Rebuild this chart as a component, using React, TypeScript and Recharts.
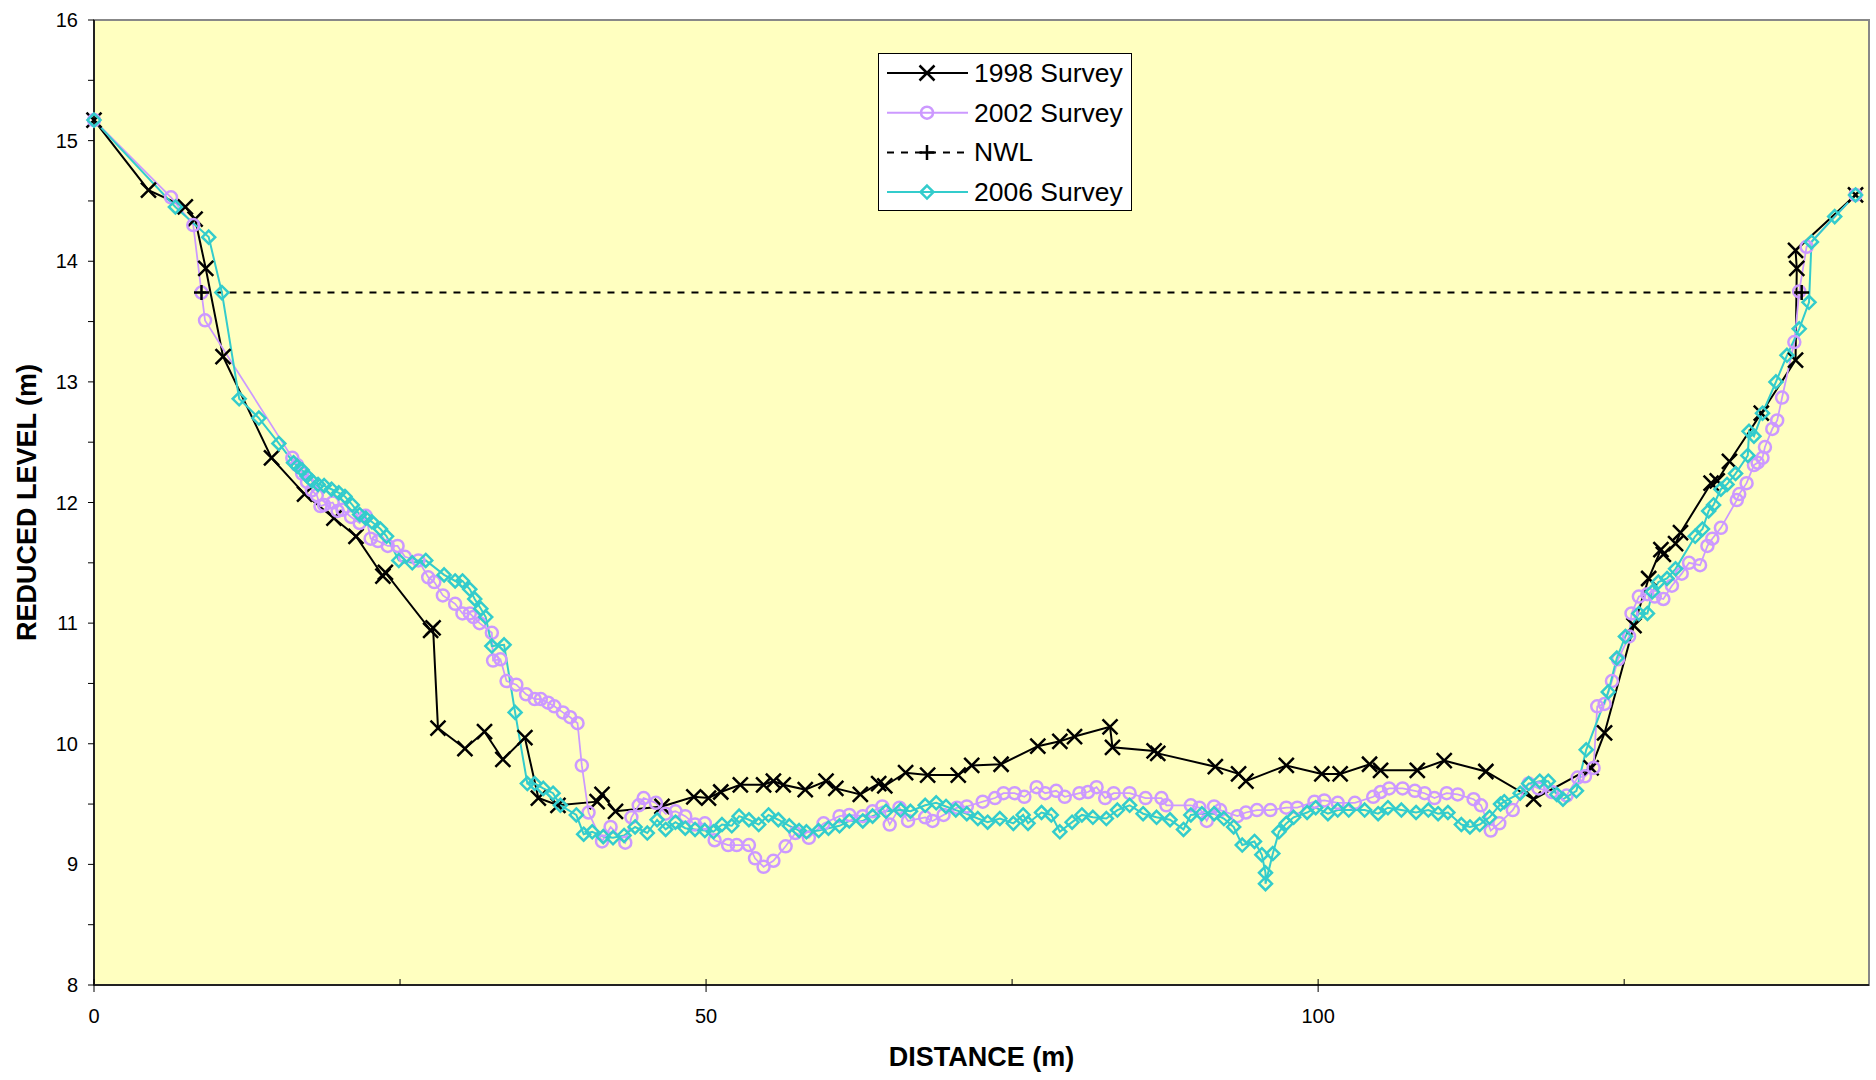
import React from "react";
import { LineChart, Line, XAxis, YAxis, ReferenceArea } from "recharts";

const FONT = '"Liberation Sans", Arial, sans-serif';
const PLOT_BG = "#FFFFC0";
const LILAC = "#CC99FF";
const TEAL = "#33CCCC";

const seriesNames = ["1998 Survey", "2002 Survey", "NWL", "2006 Survey"];

const xTicks = [0, 25, 50, 75, 100, 125];
const xLabels = [0, 50, 100];
const yTicks = [8, 8.5, 9, 9.5, 10, 10.5, 11, 11.5, 12, 12.5, 13, 13.5, 14, 14.5, 15, 15.5, 16];
const yLabels = [8, 9, 10, 11, 12, 13, 14, 15, 16];

// 1998 survey
const dist1998 = [
  0, 4.45, 7.46, 8.26, 9.13, 10.54, 14.5, 17.2, 19.6, 21.4,
  23.6, 23.8, 27.5, 27.7, 28.1, 30.3, 31.9, 33.4, 35.2, 36.3,
  37.9, 41.1, 41.5, 42.6, 46.4, 49.0, 50.2, 51.2, 52.8, 54.7,
  55.5, 56.3, 58.1, 59.8, 60.6, 62.6, 64.1, 64.6, 66.3, 68.1,
  70.6, 71.7, 74.1, 77.1, 78.9, 80.1, 83.0, 83.2, 86.6, 86.9,
  91.6, 93.5, 94.1, 97.4, 100.3, 101.8, 104.2, 105.1, 108.1, 110.3,
  113.7, 117.6, 122.3, 123.4, 125.8, 127.0, 128.0, 128.2, 129.2, 129.6,
  132.1, 132.6, 133.6, 136.2, 139.0, 139.1, 139.0, 143.9,
];
const level1998 = [
  15.17, 14.59, 14.45, 14.35, 13.94, 13.21, 12.37, 12.07, 11.87, 11.72,
  11.39, 11.42, 10.94, 10.96, 10.13, 9.96, 10.10, 9.87, 10.05, 9.55,
  9.49, 9.52, 9.58, 9.44, 9.48, 9.56, 9.55, 9.60, 9.66, 9.66,
  9.69, 9.66, 9.62, 9.69, 9.63, 9.58, 9.67, 9.65, 9.76, 9.74,
  9.74, 9.82, 9.83, 9.98, 10.02, 10.06, 10.14, 9.97, 9.94, 9.92,
  9.81, 9.75, 9.69, 9.82, 9.75, 9.75, 9.83, 9.78, 9.78, 9.86,
  9.77, 9.54, 9.80, 10.09, 10.98, 11.37, 11.61, 11.57, 11.66, 11.75,
  12.16, 12.18, 12.34, 12.74, 13.18, 13.94, 14.09, 14.55,
];

// 2002 survey
const dist2002 = [
  0, 6.29, 8.11, 8.78, 9.07, 16.2, 16.6, 17.0, 17.4, 17.8,
  18.2, 18.5, 18.8, 19.5, 19.9, 20.3, 21.0, 21.7, 22.2, 22.6,
  23.2, 24.0, 24.8, 25.4, 26.5, 27.3, 27.8, 28.5, 29.5, 30.1,
  30.7, 31.0, 31.5, 32.5, 32.6, 33.2, 33.7, 34.5, 35.3, 36.0,
  36.5, 37.1, 37.6, 38.3, 38.9, 39.5, 39.85, 40.4, 41.5, 42.2,
  43.4, 43.9, 44.5, 44.9, 45.9, 46.7, 47.5, 48.3, 49.1, 49.9,
  50.7, 51.8, 52.5, 53.5, 54.0, 54.7, 55.5, 56.5, 57.3, 58.4,
  59.6, 60.9, 61.7, 62.8, 63.6, 64.4, 65.0, 65.8, 66.5, 67.9,
  68.5, 69.4, 70.5, 71.3, 72.6, 73.6, 74.3, 75.2, 76.0, 77.0,
  77.7, 78.6, 79.3, 80.5, 81.2, 81.9, 82.6, 83.3, 84.6, 85.9,
  87.2, 87.6, 89.6, 90.3, 90.9, 91.5, 92.0, 93.4, 94.1, 95.0,
  96.1, 97.4, 98.3, 99.7, 100.5, 101.6, 103.0, 104.5, 105.1, 105.8,
  106.9, 107.9, 108.7, 109.5, 110.5, 111.4, 112.7, 113.3, 114.1, 114.8,
  115.9, 117.2, 118.0, 119.1, 120.3, 121.2, 121.8, 122.5, 122.8, 123.4,
  124.0, 124.5, 125.4, 125.6, 126.2, 126.9, 127.5, 128.2, 128.9, 129.7,
  130.3, 131.2, 131.8, 132.2, 132.9, 134.2, 134.4, 135.0, 135.6, 135.9,
  136.3, 136.5, 137.1, 137.5, 137.9, 138.9, 139.3, 139.9, 143.9,
];
const level2002 = [
  15.17, 14.53, 14.30, 13.74, 13.51, 12.37, 12.31, 12.24, 12.17, 12.10,
  12.06, 11.97, 11.98, 12.00, 11.93, 11.94, 11.88, 11.83, 11.89, 11.70,
  11.68, 11.64, 11.64, 11.55, 11.52, 11.38, 11.34, 11.23, 11.16, 11.08,
  11.08, 11.05, 11.00, 10.92, 10.69, 10.70, 10.52, 10.49, 10.41, 10.37,
  10.37, 10.34, 10.31, 10.26, 10.22, 10.17, 9.82, 9.43, 9.19, 9.31,
  9.18, 9.39, 9.49, 9.55, 9.51, 9.42, 9.44, 9.40, 9.33, 9.34,
  9.20, 9.16, 9.16, 9.16, 9.05, 8.98, 9.03, 9.15, 9.26, 9.22,
  9.34, 9.40, 9.41, 9.40, 9.44, 9.48, 9.33, 9.47, 9.36, 9.39,
  9.36, 9.41, 9.47, 9.48, 9.52, 9.55, 9.59, 9.59, 9.56, 9.64,
  9.59, 9.61, 9.56, 9.59, 9.60, 9.64, 9.55, 9.59, 9.59, 9.55,
  9.55, 9.49, 9.49, 9.47, 9.36, 9.48, 9.45, 9.40, 9.43, 9.45,
  9.45, 9.47, 9.47, 9.52, 9.53, 9.51, 9.51, 9.56, 9.60, 9.63,
  9.63, 9.61, 9.59, 9.55, 9.59, 9.58, 9.54, 9.49, 9.28, 9.34,
  9.45, 9.67, 9.63, 9.60, 9.57, 9.72, 9.73, 9.80, 10.31, 10.33,
  10.52, 10.70, 10.89, 11.08, 11.22, 11.24, 11.22, 11.20, 11.31, 11.41,
  11.50, 11.48, 11.64, 11.70, 11.79, 12.02, 12.07, 12.16, 12.31, 12.33,
  12.37, 12.46, 12.61, 12.68, 12.87, 13.33, 13.75, 14.12, 14.55,
];

// normal water level
const distNwl = [8.78, 139.5];
const levelNwl = [13.74, 13.74];

// 2006 survey
const dist2006 = [
  0, 6.65, 9.37, 10.45, 11.86, 13.47, 15.1, 16.3, 16.6, 17.0,
  17.4, 17.8, 18.3, 18.8, 19.4, 20.0, 20.5, 21.1, 21.7, 22.2,
  22.7, 23.4, 23.9, 24.9, 26.0, 27.1, 28.6, 29.5, 30.1, 30.7,
  31.1, 31.6, 32.0, 32.5, 33.5, 34.4, 35.4, 36.0, 36.7, 37.5,
  38.1, 39.4, 40.0, 40.7, 41.6, 42.4, 43.3, 44.2, 45.2, 46.0,
  46.7, 47.5, 48.3, 49.1, 49.9, 50.6, 51.3, 52.1, 52.7, 53.5,
  54.3, 55.1, 55.9, 56.8, 57.6, 58.2, 59.2, 60.0, 60.9, 61.7,
  62.8, 63.6, 64.7, 65.9, 66.7, 67.9, 68.8, 69.6, 70.4, 71.3,
  72.2, 73.0, 74.0, 75.1, 75.9, 76.3, 77.4, 78.2, 78.9, 79.9,
  80.7, 81.6, 82.7, 83.6, 84.6, 85.7, 86.8, 87.9, 89.0, 89.6,
  90.5, 91.5, 92.3, 93.1, 93.8, 94.8, 95.4, 95.7, 95.7, 96.3,
  96.8, 97.4, 98.0, 99.1, 99.8, 100.8, 101.6, 102.5, 103.8, 104.9,
  105.7, 106.8, 108.0, 109.0, 109.8, 110.6, 111.7, 112.4, 113.2, 114.0,
  114.9, 115.2, 116.5, 117.2, 118.1, 118.8, 119.5, 120.0, 121.1, 121.9,
  123.7, 124.4, 125.1, 126.2, 126.9, 127.3, 127.8, 128.5, 129.2, 130.8,
  131.4, 131.9, 132.3, 132.9, 133.4, 134.1, 135.1, 135.2, 135.6, 136.3,
  137.4, 138.3, 139.3, 140.1, 140.3, 142.2, 143.9,
];
const level2006 = [
  15.17, 14.45, 14.20, 13.74, 12.86, 12.70, 12.49, 12.33, 12.30, 12.27,
  12.22, 12.18, 12.15, 12.14, 12.11, 12.08, 12.05, 11.98, 11.90, 11.87,
  11.84, 11.78, 11.72, 11.52, 11.50, 11.52, 11.40, 11.35, 11.35, 11.28,
  11.20, 11.12, 11.05, 10.81, 10.82, 10.26, 9.67, 9.67, 9.63, 9.59,
  9.49, 9.41, 9.25, 9.27, 9.23, 9.22, 9.24, 9.31, 9.26, 9.37,
  9.29, 9.35, 9.30, 9.29, 9.28, 9.27, 9.33, 9.32, 9.40, 9.37,
  9.33, 9.41, 9.37, 9.32, 9.28, 9.27, 9.28, 9.30, 9.32, 9.36,
  9.36, 9.40, 9.44, 9.45, 9.44, 9.49, 9.51, 9.48, 9.45, 9.42,
  9.38, 9.35, 9.38, 9.34, 9.41, 9.34, 9.43, 9.41, 9.27, 9.35,
  9.41, 9.39, 9.38, 9.45, 9.49, 9.42, 9.39, 9.37, 9.29, 9.41,
  9.42, 9.42, 9.38, 9.31, 9.16, 9.19, 9.08, 8.93, 8.84, 9.09,
  9.27, 9.34, 9.39, 9.43, 9.47, 9.42, 9.45, 9.45, 9.45, 9.42,
  9.47, 9.45, 9.43, 9.45, 9.42, 9.43, 9.33, 9.31, 9.33, 9.39,
  9.50, 9.52, 9.59, 9.67, 9.69, 9.69, 9.58, 9.54, 9.61, 9.95,
  10.43, 10.71, 10.89, 11.08, 11.08, 11.26, 11.34, 11.37, 11.45, 11.72,
  11.78, 11.93, 11.98, 12.11, 12.15, 12.24, 12.39, 12.59, 12.55, 12.74,
  13.00, 13.22, 13.44, 13.66, 14.16, 14.37, 14.55,
];

const toPoints = (xs: number[], ys: number[]) => xs.map((x, i) => ({ x, y: ys[i] }));

const pts1998 = toPoints(dist1998, level1998);
const pts2002 = toPoints(dist2002, level2002);
const ptsNwl = toPoints(distNwl, levelNwl);
const pts2006 = toPoints(dist2006, level2006);

// marker shapes
const cross = (cx: number, cy: number, key?: any) => (
  <path key={key} d={`M${cx - 7.5},${cy - 7.5}L${cx + 7.5},${cy + 7.5}M${cx - 7.5},${cy + 7.5}L${cx + 7.5},${cy - 7.5}`}
    stroke="#000" strokeWidth={2.5} fill="none" />
);
const ring = (cx: number, cy: number, key?: any) => (
  <circle key={key} cx={cx} cy={cy} r={6} stroke={LILAC} strokeWidth={2.5} fill="none" />
);
const plus = (cx: number, cy: number, key?: any) => (
  <path key={key} d={`M${cx - 7.5},${cy}L${cx + 7.5},${cy}M${cx},${cy - 7.5}L${cx},${cy + 7.5}`}
    stroke="#000" strokeWidth={2.5} fill="none" />
);
const diamond = (cx: number, cy: number, key?: any) => (
  <path key={key} d={`M${cx},${cy - 6.5}L${cx + 6.5},${cy}L${cx},${cy + 6.5}L${cx - 6.5},${cy}Z`}
    stroke={TEAL} strokeWidth={2.5} fill="none" />
);

const dotOf = (shape: (cx: number, cy: number, key?: any) => any) => (p: any) =>
  p.cx == null || p.cy == null ? <g key={p.index} /> : shape(p.cx, p.cy, p.index);

const XTick = (p: any) => {
  const { x, y, payload } = p;
  const v = payload.value;
  const labelled = xLabels.includes(v);
  return (
    <g>
      <line x1={x} x2={x} y1={y - 6} y2={labelled ? y + 7 : y} stroke="#000" strokeWidth={1} />
      {labelled && (
        <text x={x} y={y + 31} textAnchor="middle" dominantBaseline="central" fontSize={20} fill="#000">
          {v}
        </text>
      )}
    </g>
  );
};

const YTick = (p: any) => {
  const { x, y, payload } = p;
  const v = payload.value;
  return (
    <g>
      <line x1={x - 6} x2={x} y1={y} y2={y} stroke="#000" strokeWidth={1} />
      {yLabels.includes(v) && (
        <text x={x - 16} y={y} textAnchor="end" dominantBaseline="central" fontSize={20} fill="#000">
          {v}
        </text>
      )}
    </g>
  );
};

const legendRows = [
  { name: seriesNames[0], color: "#000", dash: undefined as string | undefined, mark: cross },
  { name: seriesNames[1], color: LILAC, dash: undefined, mark: ring },
  { name: seriesNames[2], color: "#000", dash: "7 7", mark: plus },
  { name: seriesNames[3], color: TEAL, dash: undefined, mark: diamond },
];

const ChartLegend = () => (
  <svg width={254} height={158} style={{ position: "absolute", left: 878, top: 53 }}>
    <rect x={0.5} y={0.5} width={253} height={157} fill="#fff" stroke="#000" strokeWidth={1} />
    {legendRows.map((r, i) => {
      const cy = 20 + i * 39.7;
      return (
        <g key={r.name}>
          <line x1={9} x2={90} y1={cy} y2={cy} stroke={r.color} strokeWidth={2} strokeDasharray={r.dash} />
          {r.mark(49, cy)}
          <text x={96} y={cy} dominantBaseline="central" fontSize={26.5} fill="#000">
            {r.name}
          </text>
        </g>
      );
    })}
  </svg>
);

const App = () => {
  return (
    <div style={{ position: "absolute", left: 0, top: 0, width: 1876, height: 1080, background: "#fff", fontFamily: FONT }}>
      <LineChart width={1876} height={1080} margin={{ top: 20, right: 7, bottom: 0, left: 0 }}>
        <ReferenceArea x1={0} x2={145} y1={8} y2={16} fill={PLOT_BG} fillOpacity={1} stroke="#888" strokeWidth={2} />
        <XAxis
          type="number"
          dataKey="x"
          domain={[0, 145]}
          ticks={xTicks}
          interval={0}
          height={95}
          tickSize={0}
          tickMargin={0}
          tickLine={false}
          tick={(p: any) => <XTick {...p} />}
          axisLine={{ stroke: "#222", strokeWidth: 2 }}
          label={{ value: "DISTANCE (m)", position: "insideBottom", offset: 14, fontSize: 27, fontWeight: "bold", fill: "#000" }}
        />
        <YAxis
          type="number"
          domain={[8, 16]}
          ticks={yTicks}
          interval={0}
          width={94}
          tickSize={0}
          tickMargin={0}
          tickLine={false}
          tick={(p: any) => <YTick {...p} />}
          axisLine={{ stroke: "#222", strokeWidth: 2 }}
          label={{ value: "REDUCED LEVEL (m)", angle: -90, position: "insideLeft", offset: 26, fontSize: 27, fontWeight: "bold", fill: "#000", style: { textAnchor: "middle" } }}
        />
        <Line data={pts1998} dataKey="y" name={seriesNames[0]} type="linear" stroke="#000" strokeWidth={2}
          dot={dotOf(cross)} activeDot={false} isAnimationActive={false} />
        <Line data={pts2002} dataKey="y" name={seriesNames[1]} type="linear" stroke={LILAC} strokeWidth={1.75}
          dot={dotOf(ring)} activeDot={false} isAnimationActive={false} />
        <Line data={ptsNwl} dataKey="y" name={seriesNames[2]} type="linear" stroke="#000" strokeWidth={2} strokeDasharray="7 7"
          dot={dotOf(plus)} activeDot={false} isAnimationActive={false} />
        <Line data={pts2006} dataKey="y" name={seriesNames[3]} type="linear" stroke={TEAL} strokeWidth={2}
          dot={dotOf(diamond)} activeDot={false} isAnimationActive={false} />
      </LineChart>
      <ChartLegend />
    </div>
  );
};

export default App;
